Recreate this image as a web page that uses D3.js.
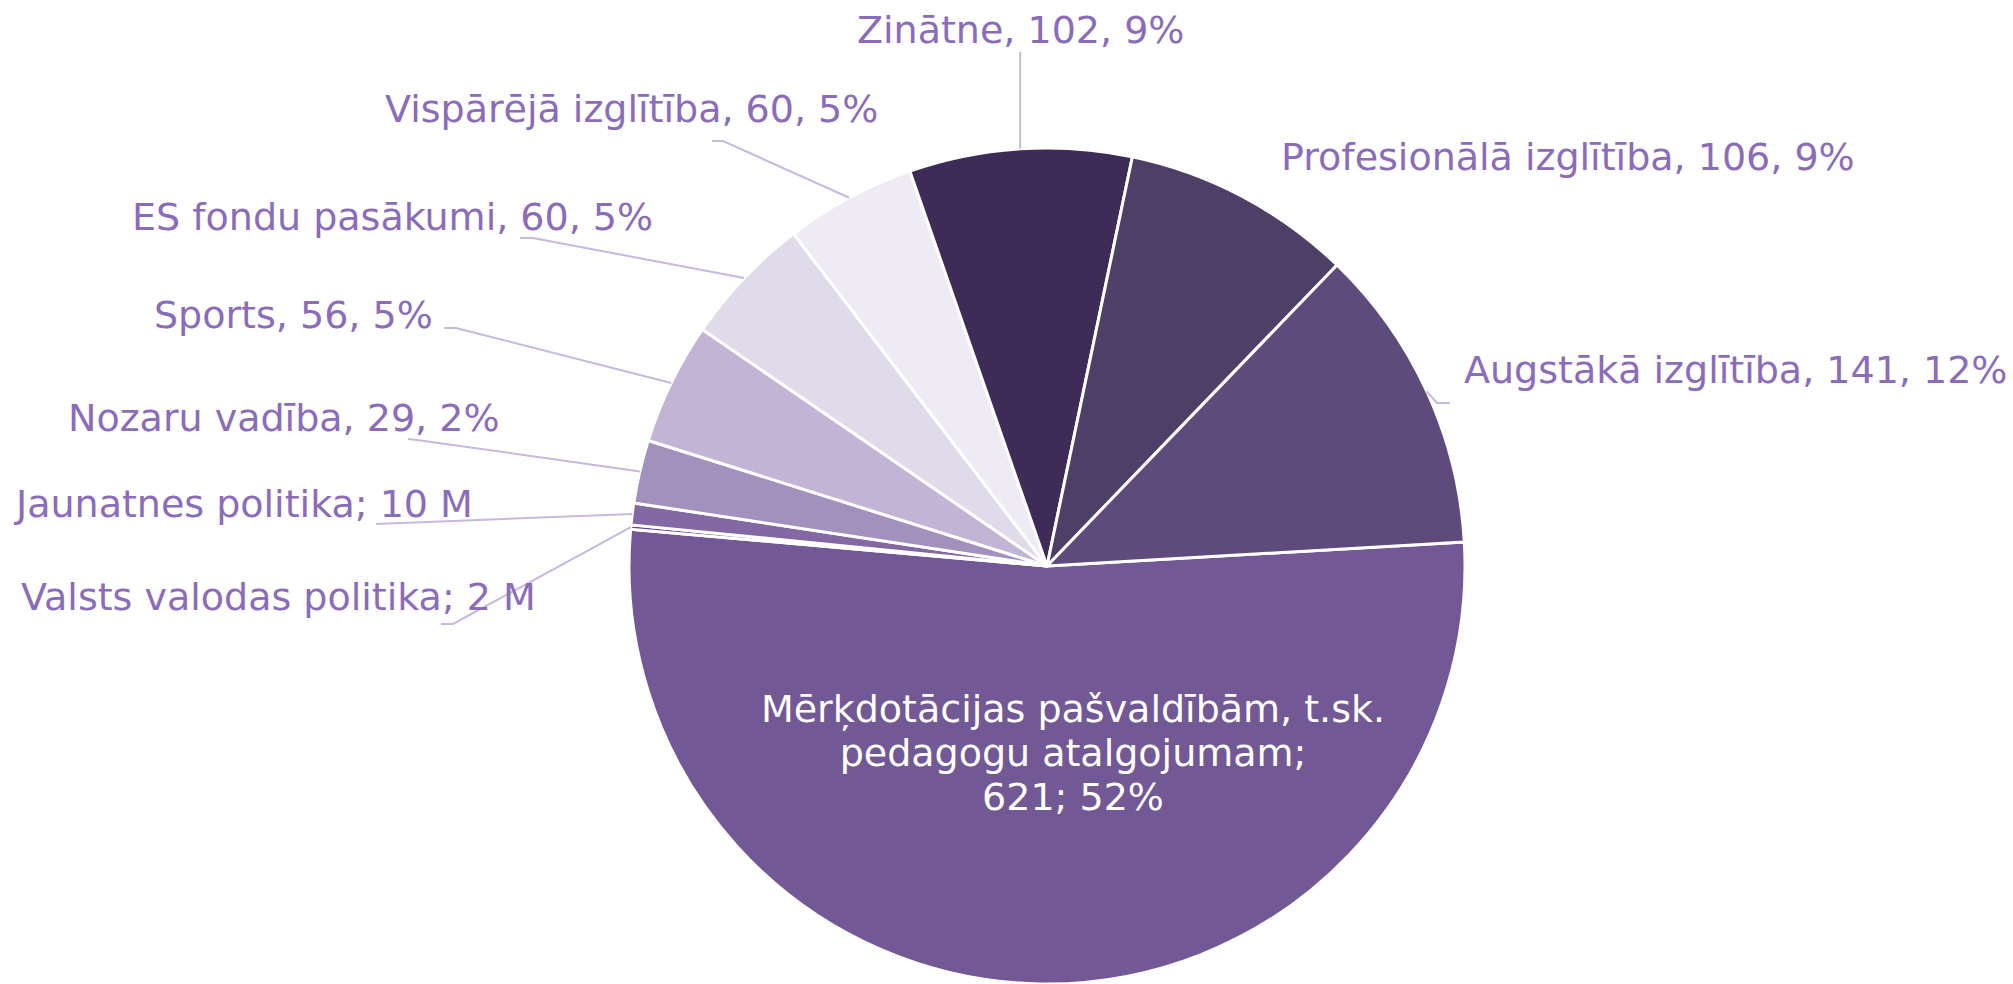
<!DOCTYPE html>
<html>
<head>
<meta charset="utf-8">
<script src="https://cdn.jsdelivr.net/npm/d3@7"></script>
<style>
  html, body { margin: 0; padding: 0; background: #fff; }
  svg { display: block; }
  text { font-family: "DejaVu Sans", Verdana, sans-serif; font-size: 38px; }
</style>
</head>
<body>
<svg id="chart" width="2013" height="984"></svg>
<script>
// ==== Data (budget, M EUR) ====
const names = [
  "Mērķdotācijas pašvaldībām, t.sk. pedagogu atalgojumam",
  "Valsts valodas politika",
  "Jaunatnes politika",
  "Nozaru vadība",
  "Sports",
  "ES fondu pasākumi",
  "Vispārējā izglītība",
  "Zinātne",
  "Profesionālā izglītība",
  "Augstākā izglītība"
];
const values = [621, 2, 10, 29, 56, 60, 60, 102, 106, 141];
// "full" -> "name, value, pct%", "short" -> "name; value M"
const labelStyle = ["inside", "short", "short", "full", "full", "full", "full", "full", "full", "full"];

const colors = ["#725894", "#644593", "#8468a4", "#a391bd", "#c1b4d5",
                "#e0dbea", "#eeebf4", "#3e2b57", "#4e3f67", "#5e4b7c"];

// ==== Layout ====
const cx = 1047, cy = 566, R = 418;
const startDeg = 86.7;
// label anchor (text start, baseline) and leader elbow points
const labelLayout = [
  { x: 1073, y: 722 },
  { x: 21,   y: 610, leader: [[441, 624], [453, 624]] },
  { x: 16,   y: 517, leader: [[376, 524]] },
  { x: 68,   y: 431, leader: [[408, 439], [417, 440]] },
  { x: 154,  y: 328, leader: [[444, 328], [456, 328]] },
  { x: 132,  y: 230, leader: [[520, 238], [533, 238]] },
  { x: 385,  y: 122, leader: [[712, 141], [723, 141]] },
  { x: 857,  y: 43,  leader: [[null, 52]] },
  { x: 1281, y: 170 },
  { x: 1464, y: 383, leader: [[1450, 403], [1437, 403]] }
];

const total = d3.sum(values);
const data = names.map((n, i) => ({ name: n, value: values[i], i }));

const svg = d3.select("#chart");
const g = svg.append("g").attr("transform", `translate(${cx},${cy})`);

const pie = d3.pie().sort(null).value(d => d.value)
  .startAngle(startDeg * Math.PI / 180)
  .endAngle(startDeg * Math.PI / 180 + 2 * Math.PI);
const arcs = pie(data);
const arc = d3.arc().innerRadius(0).outerRadius(R);

g.selectAll("path.slice").data(arcs).join("path")
  .attr("class", "slice")
  .attr("d", arc)
  .attr("fill", d => colors[d.data.i])
  .attr("stroke", "#fff")
  .attr("stroke-width", 3)
  .attr("stroke-linejoin", "round");

// ==== Leader lines ====
const lineGen = d3.line();
const leaders = svg.append("g");
arcs.forEach(a => {
  const lay = labelLayout[a.data.i];
  if (!lay.leader) return;
  const mid = (a.startAngle + a.endAngle) / 2;
  const px = cx + R * Math.sin(mid), py = cy - R * Math.cos(mid);
  const pts = lay.leader.map(p => [p[0] == null ? px : p[0], p[1]]);
  pts.push([px, py]);
  leaders.append("path")
    .attr("d", lineGen(pts))
    .attr("fill", "none")
    .attr("stroke", "#c7b8e0")
    .attr("stroke-width", 2);
});

// ==== Labels ====
const pct = v => Math.round(v / total * 100);
const labels = svg.append("g");
arcs.forEach(a => {
  const d = a.data, lay = labelLayout[d.i], st = labelStyle[d.i];
  if (st === "inside") {
    const lines = ["Mērķdotācijas pašvaldībām, t.sk.", "pedagogu atalgojumam;", `${d.value}; ${pct(d.value)}%`];
    labels.append("text")
      .attr("fill", "#fff")
      .attr("text-anchor", "middle")
      .selectAll("tspan").data(lines).join("tspan")
      .attr("x", lay.x)
      .attr("y", (l, k) => lay.y + k * 44)
      .text(l => l);
  } else {
    const txt = st === "short"
      ? `${d.name}; ${d.value} M`
      : `${d.name}, ${d.value}, ${pct(d.value)}%`;
    labels.append("text")
      .attr("x", lay.x)
      .attr("y", lay.y)
      .attr("fill", "#8a6cbb")
      .text(txt);
  }
});
</script>
</body>
</html>
